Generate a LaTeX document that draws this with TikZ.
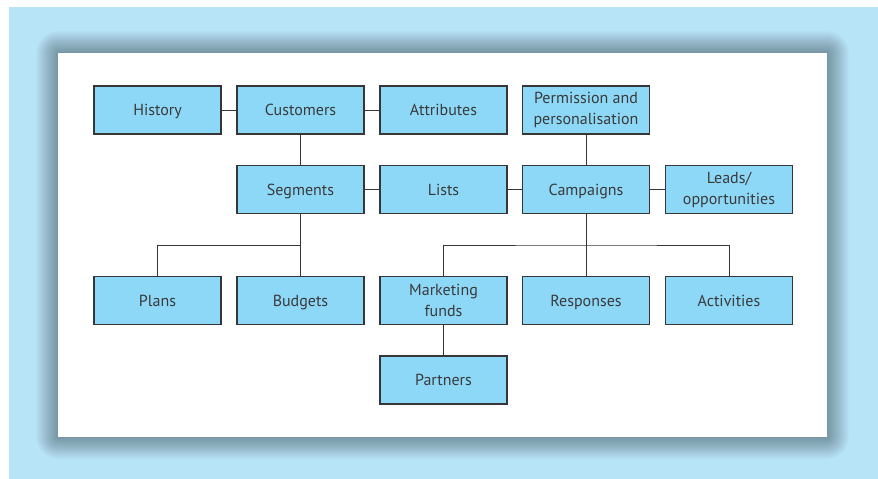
\documentclass[tikz,border=0pt]{standalone}
\usepackage{fontspec}
\setmainfont{PT Sans}
\usepackage{tikz}

\definecolor{bgblue}{HTML}{B8E4F8}
\definecolor{boxblue}{HTML}{8DD8F7}
\definecolor{edgegray}{HTML}{363636}
\definecolor{txtgray}{HTML}{3A3A3A}

\tikzset{
  entity/.style={draw=edgegray, line width=1.1pt, fill=boxblue, text=txtgray,
    minimum width=127pt, minimum height=48pt, inner sep=0pt, align=center,
    font=\fontsize{16}{21}\selectfont},
  oneline/.style={entity, text height=13pt, text depth=2pt},
  link/.style={draw=edgegray, line width=0.9pt}
}

\begin{document}
\begin{tikzpicture}[x=1pt, y=-1pt]
      \useasboundingbox (0,0) rectangle (878,479);
      \fill[bgblue] (9,7) rectangle (878,479);
      \foreach \r in {1,...,22}
        \fill[black, opacity=0.016, rounded corners=\r pt] (58-\r,53-\r) rectangle (827+\r,437+\r);
      \fill[white] (58,53) rectangle (827,437);

      \node[oneline] (history)   at (157.5,110)   {History};
      \node[oneline] (customers) at (300.5,110)   {Customers};
      \node[oneline] (attribs)   at (443.5,110)   {Attributes};
      \node[entity]  (perm)      at (586,110)     {Permission and\\personalisation};

      \node[oneline] (segments)  at (300.5,189.5) {Segments};
      \node[oneline] (lists)     at (443.5,189.5) {Lists};
      \node[oneline] (campaigns) at (586,189.5)   {Campaigns};
      \node[entity]  (leads)     at (729,189.5)   {Leads/\\opportunities};

      \node[oneline] (plans)     at (157.5,300.5) {Plans};
      \node[oneline] (budgets)   at (300.5,300.5) {Budgets};
      \node[entity]  (funds)     at (443.5,300.5) {Marketing\\funds};
      \node[oneline] (responses) at (586,300.5)   {Responses};
      \node[oneline] (activities) at (729,300.5)  {Activities};

      \node[oneline] (partners)  at (443.5,380)   {Partners};

      \coordinate (segbus)  at (300.5,245);
      \coordinate (campbus) at (586,245);

      \draw[link] (history) -- (customers);
      \draw[link] (customers) -- (attribs);
      \draw[link] (customers) -- (segments);
      \draw[link] (segments) -- (lists);
      \draw[link] (lists) -- (campaigns);
      \draw[link] (campaigns) -- (leads);
      \draw[link] (perm) -- (campaigns);
      \draw[link] (segments) -- (budgets);
      \draw[link] (plans.north) |- (segbus);
      \draw[link] (campaigns) -- (responses);
      \draw[link] (funds.north) |- (campbus) -| (activities.north);
      \draw[link] (funds) -- (partners);
   \end{tikzpicture}
\end{document}
